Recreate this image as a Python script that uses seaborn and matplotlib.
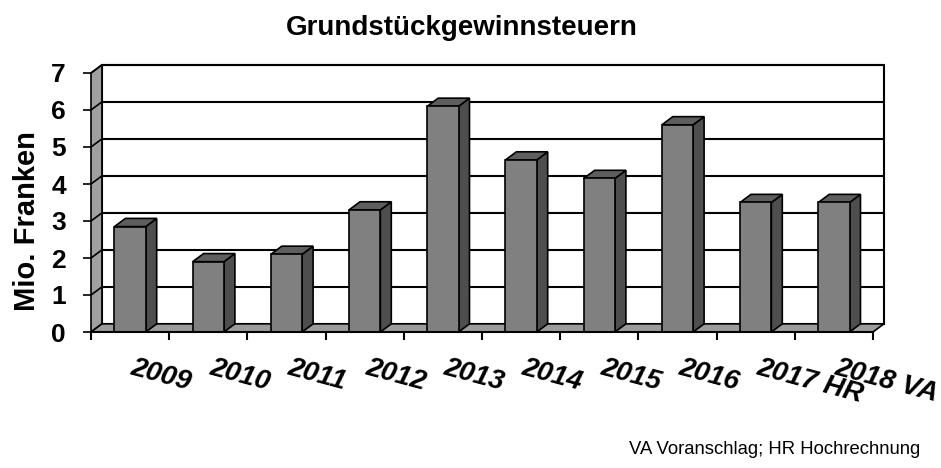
import matplotlib
matplotlib.use("Agg")
import matplotlib.pyplot as plt
import matplotlib.transforms as mtransforms
from matplotlib.patches import Polygon
import seaborn as sns
import pandas as pd

years = ["2009", "2010", "2011", "2012", "2013", "2014", "2015", "2016", "2017 HR", "2018 VA"]
values = [2.85, 1.9, 2.1, 3.3, 6.1, 4.65, 4.15, 5.6, 3.5, 3.5]
yticks = [0, 1, 2, 3, 4, 5, 6, 7]
title = "Grundstückgewinnsteuern"
ylabel = "Mio. Franken"
footnote = "VA Voranschlag; HR Hochrechnung"

sns.set_theme(style="white")
plt.rcParams["font.family"] = ["Liberation Sans", "DejaVu Sans"]

W, H = 941, 468
fig = plt.figure(figsize=(W / 100, H / 100), dpi=100)
ax = fig.add_axes([91 / W, (H - 332) / H, (873 - 91) / W, (332 - 73) / H])

df = pd.DataFrame({"year": years, "value": values})
sns.barplot(data=df, x="year", y="value", color="#808080", saturation=1,
            width=0.4, edgecolor="black", linewidth=1.2, ax=ax, zorder=4)

n = len(years)
x0, x1 = -0.5, n - 0.5
ymax = yticks[-1]
ax.set_xlim(x0, x1)
ax.set_ylim(0, ymax)
dx, dy = 0.14, 0.22

# back wall
ax.add_patch(Polygon([(x0 + dx, dy), (x1 + dx, dy), (x1 + dx, ymax + dy), (x0 + dx, ymax + dy)],
                     closed=True, facecolor="white", edgecolor="black", lw=1.5,
                     zorder=0.5, clip_on=False))
# gridlines on back wall and left side wall
for t in yticks[1:]:
    ax.plot([x0 + dx, x1 + dx], [t + dy, t + dy], color="black", lw=1.5, zorder=0.8,
            clip_on=False, solid_capstyle="butt")
# left side wall
ax.add_patch(Polygon([(x0, 0), (x0 + dx, dy), (x0 + dx, ymax + dy), (x0, ymax)],
                     closed=True, facecolor="#a0a0a0", edgecolor="black", lw=1.2,
                     zorder=1, clip_on=False))
for t in yticks[1:]:
    ax.plot([x0, x0 + dx], [t, t + dy], color="black", lw=1.2, zorder=1.1, clip_on=False)
# floor
ax.add_patch(Polygon([(x0, 0), (x1, 0), (x1 + dx, dy), (x0 + dx, dy)],
                     closed=True, facecolor="#9c9c9c", edgecolor="black", lw=1.2,
                     zorder=1.2, clip_on=False))

# 3D depth of the bars from the seaborn bars
for p in list(ax.patches):
    if not hasattr(p, "get_width") or p.get_zorder() != 4:
        continue
    xl = p.get_x()
    xr = xl + p.get_width()
    h = p.get_height()
    ax.add_patch(Polygon([(xr, 0), (xr + dx, dy), (xr + dx, h + dy), (xr, h)],
                         closed=True, facecolor="#4e4e4e", edgecolor="black", lw=1.2,
                         zorder=3.9, clip_on=False))
    ax.add_patch(Polygon([(xl, h), (xl + dx, h + dy), (xr + dx, h + dy), (xr, h)],
                         closed=True, facecolor="#5e5e5e", edgecolor="black", lw=1.2,
                         zorder=3.9, clip_on=False))

for s in ["top", "right", "left"]:
    ax.spines[s].set_visible(False)
ax.spines["bottom"].set_color("black")
ax.spines["bottom"].set_linewidth(1.5)
ax.spines["bottom"].set_zorder(5)

ax.set_yticks(yticks)
ax.set_yticklabels([str(t) for t in yticks], fontsize=19, fontweight="bold")
ax.tick_params(axis="y", left=True, length=6, width=1.2, color="black", pad=12,
               labelcolor="black")

ax.set_xticks(range(n))
ax.set_xticklabels(years, fontsize=20, fontweight="bold", fontstyle="italic",
                   rotation=-15, ha="left", va="top", rotation_mode="anchor")
ax.tick_params(axis="x", bottom=True, length=0, pad=16, labelcolor="black")
shift = mtransforms.ScaledTranslation(5 / 100, 0, fig.dpi_scale_trans)
for lbl in ax.get_xticklabels():
    lbl.set_transform(lbl.get_transform() + shift)
ax.set_xticks([i - 0.5 for i in range(n + 1)], minor=True)
ax.tick_params(axis="x", which="minor", bottom=True, length=6, width=1.5, color="black")

ax.set_xlabel("")
ax.set_ylabel(ylabel, fontsize=21, fontweight="bold", va="center", color="black")
ax.yaxis.set_label_coords((27 - 91) / (873 - 91), (332 - 221) / (332 - 73))

ax.set_title(title, fontsize=20, fontweight="bold", x=(462 - 91) / (873 - 91), pad=27,
             color="black")

fig.text(920 / W, 1 - 450 / H, footnote, fontsize=13.3, ha="right", va="center", color="black")

fig.savefig("out.png", dpi=100)
